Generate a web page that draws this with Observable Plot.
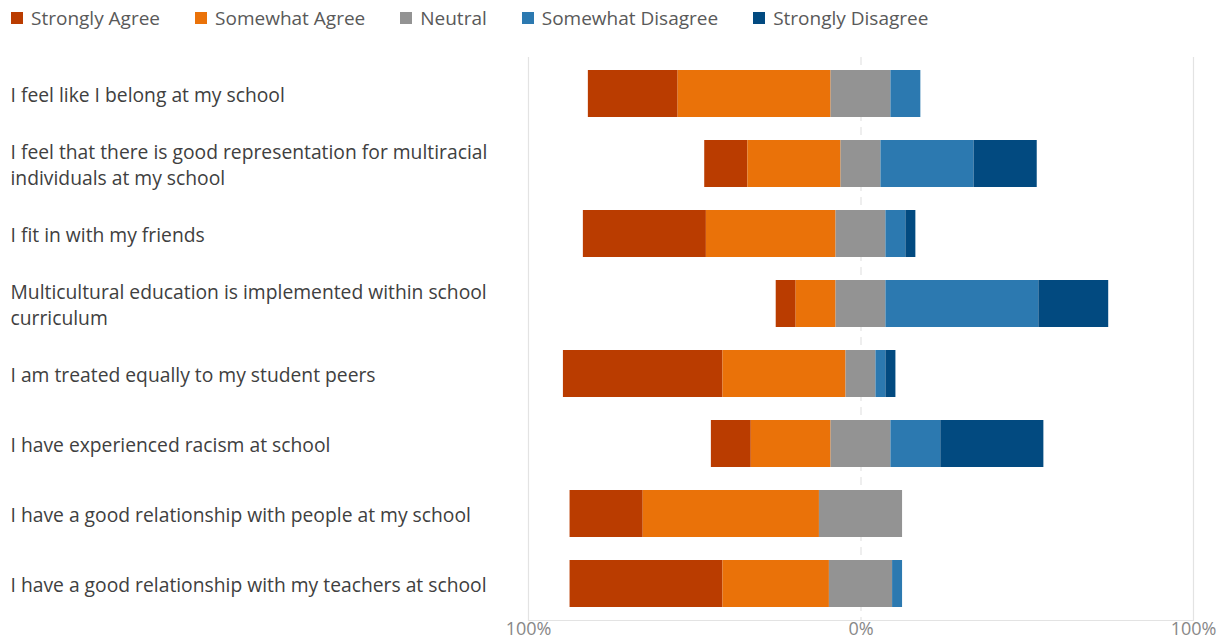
<!DOCTYPE html>
<html>
<head>
<meta charset="utf-8">
<script src="https://cdn.jsdelivr.net/npm/d3@7"></script>
<script src="https://cdn.jsdelivr.net/npm/@observablehq/plot@0.6"></script>
<style>
  html, body { margin: 0; padding: 0; background: #fff; }
  body { width: 1226px; height: 639px; overflow: hidden; font-family: "Open Sans", "Noto Sans", sans-serif; }
  #legend { display: flex; height: 36px; align-items: center; font-size: 19px; color: #595959; padding-left: 11px; box-sizing: border-box; white-space: nowrap; }
  #legend .item { display: flex; align-items: center; margin-right: 35px; }
  #legend .sw { width: 12px; height: 12px; margin-right: 8px; }
  #chart svg { display: block; }
</style>
</head>
<body>
<div id="legend"></div>
<div id="chart"></div>
<script>
const questions = [
  "I feel like I belong at my school",
  "I feel that there is good representation for multiracial\nindividuals at my school",
  "I fit in with my friends",
  "Multicultural education is implemented within school\ncurriculum",
  "I am treated equally to my student peers",
  "I have experienced racism at school",
  "I have a good relationship with people at my school",
  "I have a good relationship with my teachers at school"
];
const responses = ["Strongly Agree", "Somewhat Agree", "Neutral", "Somewhat Disagree", "Strongly Disagree"];
const colors = ["#BA3C00", "#EA7209", "#939393", "#2C79B0", "#024A80"];

const stronglyAgree    = [27, 13, 37,  6, 48, 12, 22, 46];
const somewhatAgree    = [46, 28, 39, 12, 37, 24, 53, 32];
const neutral          = [18, 12, 15, 15,  9, 18, 25, 19];
const somewhatDisagree = [ 9, 28,  6, 46,  3, 15,  0,  3];
const stronglyDisagree = [ 0, 19,  3, 21,  3, 31,  0,  0];

const tickValues = [-100, 0, 100];

const series = [stronglyAgree, somewhatAgree, neutral, somewhatDisagree, stronglyDisagree];
const segments = [];
questions.forEach((q, i) => {
  let start = -(stronglyAgree[i] + somewhatAgree[i] + neutral[i] / 2);
  responses.forEach((r, k) => {
    const v = series[k][i];
    if (v > 0) segments.push({question: q, response: r, x1: start, x2: start + v});
    start += v;
  });
});

// legend
const legend = document.getElementById("legend");
responses.forEach((r, k) => {
  const it = document.createElement("div");
  it.className = "item";
  it.innerHTML = `<span class="sw" style="background:${colors[k]}"></span><span>${r}</span>`;
  legend.appendChild(it);
});

const chart = Plot.plot({
  width: 1226,
  height: 603,
  marginLeft: 528,
  marginRight: 33,
  marginTop: 21,
  marginBottom: 19,
  style: {fontFamily: "'Open Sans', 'Noto Sans', sans-serif", background: "#fff"},
  x: {domain: [-100, 100], axis: null},
  y: {domain: questions, paddingInner: 0.333, paddingOuter: 0.17, axis: null},
  color: {domain: responses, range: colors},
  marks: [
    Plot.ruleX([-100, 100], {stroke: "#e3e3e3", strokeWidth: 1.2}),
    Plot.ruleX([0], {stroke: "#e3e3e3", strokeWidth: 1.2, strokeDasharray: "8,6"}),
    Plot.frame({anchor: "bottom", stroke: "#e3e3e3", strokeWidth: 1.2}),
    Plot.barX(segments, {x1: "x1", x2: "x2", y: "question", fill: "response", inset: 0}),
    Plot.text(questions, {y: d => d, text: d => d, frameAnchor: "left", dx: -518, textAnchor: "start", fontSize: 19.3, fill: "#404040", lineHeight: 1.3}),
    Plot.axisX({ticks: tickValues, tickFormat: d => Math.abs(d) + "%", tickSize: 0, tickPadding: 2, fontSize: 18, fill: "#888", anchor: "bottom"})
  ]
});
document.getElementById("chart").appendChild(chart);
</script>
</body>
</html>
